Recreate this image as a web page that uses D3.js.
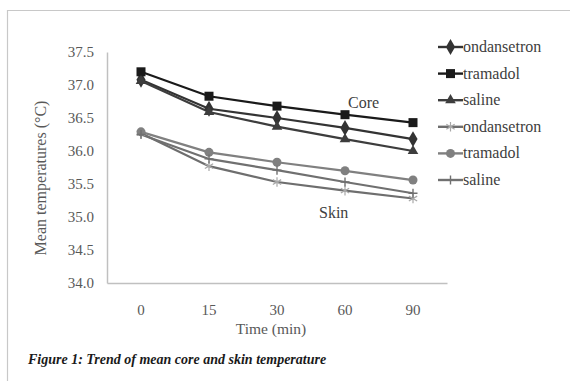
<!DOCTYPE html>
<html>
<head>
<meta charset="utf-8">
<script src="https://cdn.jsdelivr.net/npm/d3@7"></script>
<style>
  body { margin: 0; background: #fff; }
  svg { display: block; }
  text { font-family: "Liberation Serif", "DejaVu Serif", serif; }
</style>
</head>
<body>
<div id="chart"></div>
<script>
// data
const times = ['0', '15', '30', '60', '90'];
const yTicks = [34.0, 34.5, 35.0, 35.5, 36.0, 36.5, 37.0, 37.5];

const coreOndansetron = [37.08, 36.64, 36.50, 36.35, 36.18];
const coreTramadol = [37.20, 36.83, 36.68, 36.55, 36.43];
const coreSaline = [37.06, 36.59, 36.37, 36.18, 36.00];
const skinOndansetron = [36.27, 35.77, 35.53, 35.40, 35.28];
const skinTramadol = [36.29, 35.98, 35.83, 35.70, 35.56];
const skinSaline = [36.25, 35.88, 35.71, 35.53, 35.36];

const seriesNames = ['ondansetron', 'tramadol', 'saline', 'ondansetron', 'tramadol', 'saline'];

const series = [
  {name: seriesNames[0], values: coreOndansetron, color: '#333333', marker: 'diamond'},
  {name: seriesNames[1], values: coreTramadol, color: '#1a1a1a', marker: 'square'},
  {name: seriesNames[2], values: coreSaline, color: '#3d3d3d', marker: 'triangle'},
  {name: seriesNames[3], values: skinOndansetron, color: '#6e6e6e', marker: 'asterisk'},
  {name: seriesNames[4], values: skinTramadol, color: '#808080', marker: 'circle'},
  {name: seriesNames[5], values: skinSaline, color: '#707070', marker: 'plus'}
];

const width = 570;
const height = 381;

const svg = d3.select('#chart')
  .append('svg')
  .attr('width', width)
  .attr('height', height);

// outer frame
svg.append('path')
  .attr('d', 'M7.5,381 V10.5 H570')
  .attr('fill', 'none')
  .attr('stroke', '#c8c8c8')
  .attr('stroke-width', 1.2);

const x = d3.scaleBand()
  .domain(times)
  .range([107, 447])
  .padding(0);

const y = d3.scaleLinear()
  .domain([34, 37.5])
  .range([283, 52]);

const xc = function (d) { return x(d) + x.bandwidth() / 2; };

// y axis
const yAxis = d3.axisLeft(y)
  .tickValues(yTicks)
  .tickSize(0)
  .tickPadding(13)
  .tickFormat(d3.format('.1f'));

const gy = svg.append('g')
  .attr('transform', 'translate(107,0)')
  .call(yAxis);
gy.select('.domain').attr('stroke', '#c0c0c0').attr('stroke-width', 1.5);
gy.selectAll('text')
  .attr('font-family', '"Liberation Serif", serif')
  .attr('font-size', 15)
  .attr('fill', '#595959');

// x axis
const xAxis = d3.axisBottom(x)
  .tickSize(0)
  .tickPadding(21);

const gx = svg.append('g')
  .attr('transform', 'translate(0,283)')
  .call(xAxis);
gx.select('.domain').attr('stroke', '#c0c0c0').attr('stroke-width', 1.5);
gx.selectAll('text')
  .attr('font-family', '"Liberation Serif", serif')
  .attr('font-size', 15)
  .attr('fill', '#595959');

// axis titles
svg.append('text')
  .attr('transform', 'translate(46,178) rotate(-90)')
  .attr('text-anchor', 'middle')
  .attr('font-size', 16)
  .attr('fill', '#595959')
  .text('Mean temperatures (°C)');

svg.append('text')
  .attr('x', 271)
  .attr('y', 334)
  .attr('text-anchor', 'middle')
  .attr('font-size', 15.5)
  .attr('fill', '#595959')
  .text('Time (min)');

// marker shapes
function drawMarker(g, type, color, size) {
  const s = size;
  if (type === 'diamond') {
    g.append('path').attr('d', d3.symbol(d3.symbolDiamond, s * s * 0.9)).attr('fill', color);
  } else if (type === 'square') {
    g.append('rect').attr('x', -s / 2).attr('y', -s / 2).attr('width', s).attr('height', s).attr('fill', color);
  } else if (type === 'triangle') {
    g.append('path').attr('d', d3.symbol(d3.symbolTriangle, s * s * 0.6)).attr('fill', color);
  } else if (type === 'circle') {
    g.append('circle').attr('r', s / 2).attr('fill', color);
  } else if (type === 'asterisk') {
    g.append('path').attr('d', d3.symbol(d3.symbolAsterisk, s * s * 0.8))
      .attr('fill', 'none').attr('stroke', '#a8a8a8').attr('stroke-width', 1.2);
  } else if (type === 'plus') {
    const h = s / 2;
    g.append('path').attr('d', 'M' + (-h) + ',0H' + h + 'M0,' + (-h) + 'V' + h)
      .attr('fill', 'none').attr('stroke', color).attr('stroke-width', 1.4);
  }
}

const line = d3.line()
  .x(function (d, i) { return xc(times[i]); })
  .y(function (d) { return y(d); });

series.forEach(function (s) {
  svg.append('path')
    .datum(s.values)
    .attr('d', line)
    .attr('fill', 'none')
    .attr('stroke', s.color)
    .attr('stroke-width', 2.2);
});

series.forEach(function (s) {
  s.values.forEach(function (v, i) {
    const g = svg.append('g')
      .attr('transform', 'translate(' + xc(times[i]) + ',' + y(v) + ')');
    drawMarker(g, s.marker, s.color, 9);
  });
});

// group labels
svg.append('text')
  .attr('x', 348)
  .attr('y', 108)
  .attr('font-size', 16)
  .attr('fill', '#404040')
  .text('Core');

svg.append('text')
  .attr('x', 319)
  .attr('y', 218)
  .attr('font-size', 16)
  .attr('fill', '#404040')
  .text('Skin');

// legend
const legend = svg.append('g')
  .attr('transform', 'translate(438,47)');

series.forEach(function (s, i) {
  const item = legend.append('g')
    .attr('transform', 'translate(0,' + (i * 26.6) + ')');
  item.append('line')
    .attr('x1', 0).attr('x2', 25)
    .attr('y1', 0).attr('y2', 0)
    .attr('stroke', s.color)
    .attr('stroke-width', 2.4);
  const m = item.append('g').attr('transform', 'translate(12.5,0)');
  drawMarker(m, s.marker, s.color, 9);
  item.append('text')
    .attr('x', 25)
    .attr('y', 5)
    .attr('font-size', 16)
    .attr('fill', '#404040')
    .text(s.name);
});

// caption
svg.append('text')
  .attr('x', 28)
  .attr('y', 364)
  .attr('font-size', 14)
  .attr('font-weight', 'bold')
  .attr('font-style', 'italic')
  .attr('fill', '#1a1a1a')
  .text('Figure 1: Trend of mean core and skin temperature');
</script>
</body>
</html>
